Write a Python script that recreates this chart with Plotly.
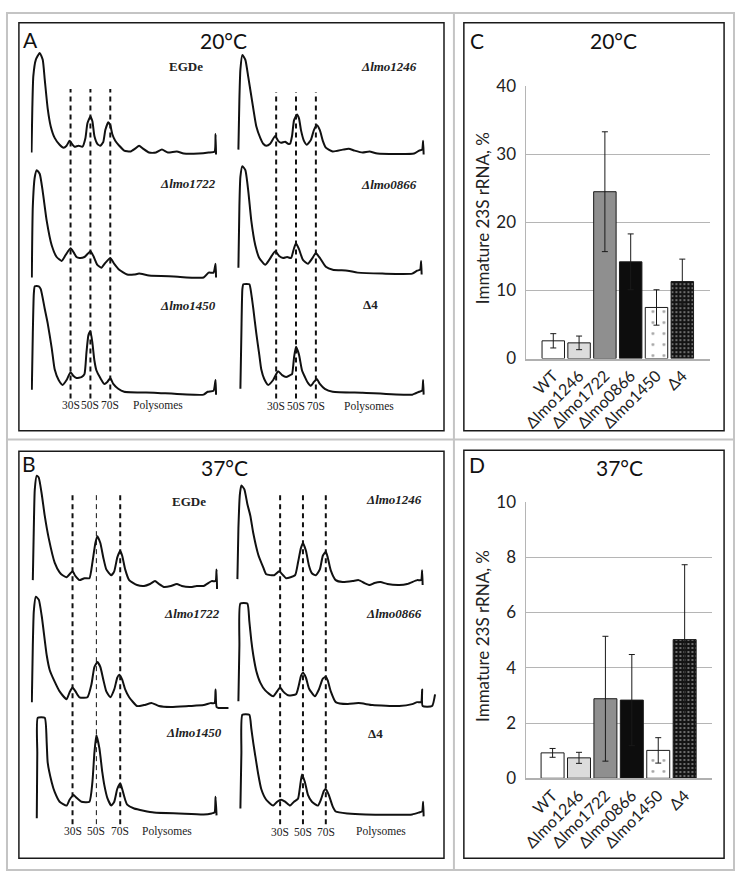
import plotly.graph_objects as go

FIG_W, FIG_H = 736, 882

# ---------------- bar chart data (panels C and D) ----------------
strains = ["WT", "Δlmo1246", "Δlmo1722", "Δlmo0866", "Δlmo1450", "Δ4"]
immature_20C = [2.6, 2.3, 24.5, 14.2, 7.5, 11.3]
immature_20C_err = [1.05, 1.0, 8.8, 4.1, 2.6, 3.3]
immature_37C = [0.92, 0.74, 2.88, 2.83, 1.01, 5.02]
immature_37C_err = [0.16, 0.2, 2.26, 1.65, 0.46, 2.71]
ticks_20C = [0, 10, 20, 30, 40]
ticks_37C = [0, 2, 4, 6, 8, 10]

# ---------------- polysome profiles (gradient position, A254 rel. units) ----------------
# 20 °C
egde20_pos = [0.7, 1.5, 2.5, 5, 9, 12, 14, 17, 20, 24, 29, 33, 36, 39, 42, 44, 48, 52, 55, 57, 60, 62, 64, 67, 70, 73, 75, 78, 80, 82, 85, 89, 94, 100, 105, 109, 113, 119, 126, 132, 138, 147, 154, 169, 179, 185, 186, 186.5]
egde20_a254 = [2, 47, 80, 97, 104, 97, 77, 47, 29, 17, 10, 7, 9, 14, 10, 8, 9, 8, 17, 32, 39, 34, 19, 11, 9, 13, 25, 33, 30, 21, 14, 9, 4, 3, 6, 9, 6, 2, 2, 5, 2, 3, 1, 1, 2, 3, 21, 0]
lmo1722_20_pos = [1, 2, 4, 6, 9, 12, 16, 21, 26, 31, 35, 40, 43, 46, 49, 54, 57, 60, 63, 67, 71, 75, 80, 84, 89, 97, 104, 109, 119, 144, 174, 179, 184, 186, 186.5]
lmo1722_20_a254 = [0, 73, 103, 110, 106, 88, 58, 33, 21, 17, 23, 30, 26, 21, 20, 21, 24, 27, 22, 13, 10, 15, 20, 14, 8, 3, 3, 4, 2, 1, 0, 5, 5, 14, 0]
lmo1450_20_pos = [1, 2, 3, 4, 8, 10, 14, 17, 21, 24, 28, 32, 36, 40, 43, 46, 51, 54, 56, 58, 60, 62, 64, 66, 70, 74, 77, 80, 83, 88, 94, 124, 174, 178, 184, 186, 186.5]
lmo1450_20_a254 = [5, 63, 103, 111, 111, 108, 88, 73, 48, 26, 15, 10, 15, 23, 19, 17, 18, 21, 43, 61, 65, 53, 35, 25, 17, 11, 13, 17, 11, 6, 3, 2, 0, 3, 4, 15, 0]
lmo1246_20_pos = [2, 3, 4, 6, 9, 12, 17, 20, 24, 27, 30, 34, 39, 42, 45, 49, 52, 54, 56, 58, 61, 63, 65, 68, 71, 75, 78, 81, 84, 87, 90, 97, 107, 113, 119, 127, 134, 142, 179, 184, 187, 188, 188.5]
lmo1246_20_a254 = [5, 57, 87, 102, 97, 79, 47, 29, 17, 11, 9, 11, 19, 14, 12, 13, 11, 11, 19, 35, 41, 37, 25, 14, 10, 15, 25, 30, 25, 14, 7, 3, 5, 6, 4, 2, 3, 1, 1, 4, 5, 14, 0]
lmo0866_20_pos = [2, 3, 4, 6, 9, 12, 15, 19, 23, 29, 33, 39, 43, 47, 51, 55, 58, 60, 63, 67, 72, 76, 80, 84, 90, 97, 112, 122, 147, 177, 182, 185, 186, 186.5]
lmo0866_20_a254 = [10, 73, 103, 114, 110, 88, 58, 33, 20, 13, 18, 27, 22, 20, 21, 20, 30, 35, 29, 18, 14, 19, 25, 20, 11, 8, 7, 5, 4, 4, 7, 8, 17, 3]
delta4_20_pos = [4, 5, 6, 7, 13, 15, 17, 20, 23, 25, 28, 32, 37, 42, 46, 50, 54, 56, 58, 60, 63, 66, 69, 72, 75, 78, 81, 84, 89, 97, 127, 177, 184, 187, 188, 188.5]
delta4_20_a254 = [6, 63, 108, 113, 113, 103, 88, 63, 41, 26, 16, 10, 15, 24, 20, 18, 20, 21, 38, 49, 41, 25, 18, 12, 9, 13, 16, 11, 6, 3, 2, 0, 3, 4, 15, 0]
# 37 °C
egde37_pos = [2, 3, 4, 6, 8, 11, 14, 18, 24, 29, 32, 36, 39, 42, 45, 49, 54, 59, 62, 65, 67, 70, 73, 76, 81, 84, 87, 90, 92, 95, 99, 107, 114, 120, 125, 129, 134, 141, 147, 152, 161, 167, 174, 182, 186, 187, 187.5]
egde37_a254 = [9, 62, 102, 116, 114, 97, 75, 52, 27, 17, 14, 12, 15, 18, 13, 9, 11, 11, 27, 47, 54, 47, 32, 20, 14, 18, 32, 39, 34, 20, 9, 4, 3, 5, 8, 5, 2, 3, 5, 3, 2, 3, 3, 8, 8, 20, 0]
lmo1722_37_pos = [1, 2, 3, 5, 8, 11, 16, 19, 24, 29, 36, 39, 42, 45, 49, 57, 61, 64, 67, 70, 73, 76, 80, 84, 87, 89, 92, 95, 99, 107, 114, 122, 129, 141, 159, 174, 181, 185, 186, 187, 189, 199]
lmo1722_37_a254 = [6, 64, 99, 114, 111, 94, 54, 39, 27, 17, 9, 16, 21, 17, 11, 11, 24, 42, 47, 42, 29, 17, 11, 19, 31, 34, 29, 19, 11, 2, 3, 5, 2, 1, 2, 3, 5, 5, 19, 1, 0, 0]
lmo1450_37_pos = [6, 6.5, 7, 14, 16, 17, 21, 24, 29, 36, 39, 43, 46, 51, 59, 62, 64, 66, 69, 72, 74, 77, 81, 84, 87, 90, 92, 95, 97, 104, 124, 149, 174, 182, 185, 186, 187]
lmo1450_37_a254 = [-1, 66, 102, 102, 76, 56, 36, 26, 16, 12, 18, 23, 20, 16, 16, 36, 66, 84, 71, 46, 33, 20, 12, 16, 29, 35, 29, 18, 13, 9, 5, 4, 3, 4, 5, 21, 2]
lmo1246_37_pos = [2, 3, 4.5, 6, 9, 12, 15, 18, 23, 28, 31, 39, 44, 48, 51, 60, 63, 66, 68, 71, 74, 77, 81, 85, 88, 91, 93, 96, 101, 108, 118, 124, 130, 135, 140, 146, 153, 165, 173, 183, 187, 188, 188.5]
lmo1246_37_a254 = [7, 59, 94, 103, 99, 84, 72, 54, 32, 19, 12, 11, 15, 11, 8, 11, 24, 39, 44, 36, 21, 13, 11, 17, 31, 35, 29, 16, 6, 4, 5, 6, 3, 1, 3, 4, 2, 1, 2, 6, 6, 16, 1]
lmo0866_37_pos = [3, 4, 5, 12, 14, 16, 18, 21, 25, 30, 38, 45, 48, 53, 61, 64, 66, 68, 71, 74, 80, 84, 88, 91, 93, 96, 101, 113, 124, 138, 165, 178, 183, 187, 188, 188.5, 198, 201]
lmo0866_37_a254 = [5, 62, 105, 105, 87, 67, 52, 36, 24, 16, 10, 19, 15, 11, 12, 22, 31, 34, 29, 18, 10, 17, 28, 30, 26, 15, 4, 2, 3, 1, 0, 2, 4, 4, 17, 0, 0, 12]
delta4_37_pos = [5, 6, 7, 14, 16, 18, 20, 23, 26, 31, 38, 42, 46, 50, 55, 59, 63, 65, 67, 70, 73, 77, 83, 86, 89, 91, 94, 98, 101, 113, 131, 178, 185, 188, 189, 189.5]
delta4_37_a254 = [8, 65, 104, 104, 90, 75, 62, 43, 28, 17, 11, 15, 17, 15, 11, 15, 18, 30, 43, 35, 22, 15, 11, 17, 26, 28, 22, 10, 5, 3, 2, 2, 4, 5, 15, 0]

# sedimentation marker positions per panel column (gradient units)
markers_A_left = [40, 60, 80]
markers_A_right = [40, 60, 80]
markers_B_left = [42, 66, 90]
markers_B_right = [45, 68, 91]
marker_names = ["30S", "50S", "70S"]


def px(x):
    return x / FIG_W


def py(y):
    return 1 - y / FIG_H


fig = go.Figure()
layout = {}
annotations = []
shapes = []

# ----- profile subplots -----
PROF_W = 210
YLO, YHI = -12, 140
profiles = [
    # pos, a254, column x0 px, baseline px, label, label centre (px)
    (egde20_pos, egde20_a254, 26, 147, "<b>EGDe</b>", (182, 57)),
    (lmo1722_20_pos, lmo1722_20_a254, 26, 273, "<b><i>Δlmo1722</i></b>", (184, 177)),
    (lmo1450_20_pos, lmo1450_20_a254, 26, 393, "<b><i>Δlmo1450</i></b>", (184, 302)),
    (lmo1246_20_pos, lmo1246_20_a254, 233, 147, "<b><i>Δlmo1246</i></b>", (387, 57)),
    (lmo0866_20_pos, lmo0866_20_a254, 233, 273, "<b><i>Δlmo0866</i></b>", (387, 178)),
    (delta4_20_pos, delta4_20_a254, 233, 393, "<b>Δ4</b>", (368, 301)),
    (egde37_pos, egde37_a254, 26, 592, "<b>EGDe</b>", (185, 502)),
    (lmo1722_37_pos, lmo1722_37_a254, 26, 714, "<b><i>Δlmo1722</i></b>", (188, 617)),
    (lmo1450_37_pos, lmo1450_37_a254, 26, 826, "<b><i>Δlmo1450</i></b>", (190, 739)),
    (lmo1246_37_pos, lmo1246_37_a254, 232, 589, "<b><i>Δlmo1246</i></b>", (392, 500)),
    (lmo0866_37_pos, lmo0866_37_a254, 232, 712, "<b><i>Δlmo0866</i></b>", (392, 617)),
    (delta4_37_pos, delta4_37_a254, 232, 825, "<b>Δ4</b>", (373, 740)),
]

for i, (pos, a254, x0, base, label, (lx, ly)) in enumerate(profiles, start=1):
    xa, ya = f"x{i}", f"y{i}"
    fig.add_trace(go.Scatter(
        x=pos, y=a254, xaxis=xa, yaxis=ya, mode="lines",
        line=dict(color="#111111", width=2, shape="spline", smoothing=0.5),
        hoverinfo="skip", showlegend=False, cliponaxis=False))
    layout[f"xaxis{i}"] = dict(domain=[px(x0), px(x0 + PROF_W)], range=[0, PROF_W],
                               visible=False, anchor=ya, fixedrange=True)
    layout[f"yaxis{i}"] = dict(domain=[py(base - YLO), py(base - YHI)], range=[YLO, YHI],
                               visible=False, anchor=xa, fixedrange=True)
    annotations.append(dict(x=px(lx), y=py(ly), xref="paper", yref="paper", text=label,
                            showarrow=False, xanchor="center", yanchor="middle",
                            font=dict(family="Liberation Serif", size=13, color="#222222")))

# dashed sedimentation markers + labels
marker_sets = [
    # axis index of column, markers, y top, y bottom, label y, polysome label x(px), widths
    (1, markers_A_left, 80, 397, 404, 154, [2, 2, 2]),
    (4, markers_A_right, 83, 397, 405, 366, [2, 2, 2]),
    (7, markers_B_left, 492, 833, 840, 163, [2, 1, 2]),
    (10, markers_B_right, 493, 833, 841, 379, [2, 2, 2]),
]
for ax_i, marks, ytop, ybot, ylab, polx, widths in marker_sets:
    for m, name, w in zip(marks, marker_names, widths):
        shapes.append(dict(type="line", xref=f"x{ax_i}", yref="paper", x0=m, x1=m,
                           y0=py(ybot), y1=py(ytop),
                           line=dict(color="#111111", width=w, dash="5px,4px")))
        annotations.append(dict(x=m, y=py(ylab), xref=f"x{ax_i}", yref="paper", text=name,
                                showarrow=False, xanchor="center", yanchor="middle",
                                font=dict(family="Liberation Serif", size=11.5, color="#222222")))
    annotations.append(dict(x=px(polx), y=py(ylab), xref="paper", yref="paper", text="Polysomes",
                            showarrow=False, xanchor="center", yanchor="middle",
                            font=dict(family="Liberation Serif", size=11.5, color="#222222")))

# ----- bar charts -----
bar_fill = ["#ffffff", "#dcdcdc", "#8f8f8f", "#0d0d0d", "#ffffff", "#141414"]
pat_shape = ["", "", "", "", ".", "."]
pat_fg = ["#000000", "#000000", "#000000", "#000000", "#111111", "#a8a8a8"]
pat_bg = bar_fill
pat_size = [8, 8, 8, 8, 11, 4]
pat_solid = [0.3, 0.3, 0.3, 0.3, 0.05, 0.2]

bar_panels = [
    (13, immature_20C, immature_20C_err, ticks_20C, [525, 710], [77, 356], [-1.04, 6.08]),
    (14, immature_37C, immature_37C_err, ticks_37C, [525, 711.7], [503, 786], [-0.99, 6.03]),
]
for ax_i, vals, errs, tks, (xl, xr), (yt, yb), xr_rng in bar_panels:
    xa, ya = f"x{ax_i}", f"y{ax_i}"
    fig.add_trace(go.Bar(
        x=strains, y=vals, xaxis=xa, yaxis=ya, width=0.87,
        marker=dict(color=bar_fill, line=dict(color="#1a1a1a", width=1),
                    pattern=dict(shape=pat_shape, fgcolor=pat_fg, bgcolor=pat_bg,
                                 size=pat_size, solidity=pat_solid)),
        error_y=dict(type="data", array=errs, color="#1a1a1a", thickness=1, width=3),
        hoverinfo="skip", showlegend=False))
    layout[f"xaxis{ax_i}"] = dict(domain=[px(xl), px(xr)], range=xr_rng, type="category",
                                  anchor=ya, showgrid=False, showline=True,
                                  linecolor="#b0b0b0", linewidth=1.5, ticks="",
                                  tickangle=-45, fixedrange=True,
                                  tickfont=dict(family="Lato", size=16, color="#222222"))
    layout[f"yaxis{ax_i}"] = dict(domain=[py(yb), py(yt)], range=[0, tks[-1]], tickvals=tks,
                                  anchor=xa, showgrid=True, gridcolor="#b5b5b5", gridwidth=1,
                                  zeroline=False, showline=True, linecolor="#b5b5b5",
                                  linewidth=1, ticks="", ticklabelstandoff=6, fixedrange=True,
                                  tickfont=dict(family="Lato", size=17, color="#222222"))
    annotations.append(dict(x=px(481), y=py((yt + yb) / 2 - 4), xref="paper", yref="paper",
                            text="Immature 23S rRNA, %", textangle=-90, showarrow=False,
                            xanchor="center", yanchor="middle",
                            font=dict(family="Lato", size=17, color="#222222")))

# ----- panel titles -----
titles = [("A", 26, 29), ("20°C", 220, 30), ("B", 24, 464), ("37°C", 221, 468),
          ("C", 475, 30), ("20°C", 613, 30), ("D", 475, 465), ("37°C", 619, 468)]
for txt, tx, ty in titles:
    annotations.append(dict(x=px(tx), y=py(ty), xref="paper", yref="paper", text=txt,
                            showarrow=False, xanchor="center", yanchor="middle",
                            font=dict(family="Lato", size=21, color="#111111")))

# ----- panel frames and outer grid -----
grid_col = "#c4c4c4"
shapes.append(dict(type="rect", xref="paper", yref="paper", x0=px(2), x1=px(734),
                   y0=py(880), y1=py(2), line=dict(color=grid_col, width=2)))
shapes.append(dict(type="line", xref="paper", yref="paper", x0=px(452), x1=px(452),
                   y0=py(880), y1=py(2), line=dict(color=grid_col, width=2)))
shapes.append(dict(type="line", xref="paper", yref="paper", x0=px(2), x1=px(734),
                   y0=py(439), y1=py(439), line=dict(color=grid_col, width=2)))
for (x0, y0, x1, y1) in [(14, 12, 442, 430), (462, 12, 724, 430),
                         (14, 451, 442, 868), (462, 450, 724, 868)]:
    shapes.append(dict(type="rect", xref="paper", yref="paper", x0=px(x0), x1=px(x1),
                       y0=py(y1), y1=py(y0), line=dict(color="#1a1a1a", width=1.5)))

fig.update_layout(width=FIG_W, height=FIG_H, autosize=False,
                  margin=dict(l=0, r=0, t=0, b=0),
                  paper_bgcolor="white", plot_bgcolor="rgba(0,0,0,0)",
                  annotations=annotations, shapes=shapes, bargap=0.1,
                  **layout)

fig.write_html("out.html", config={"displayModeBar": False},
               post_script="document.body.style.margin='0px';document.body.style.padding='0px';")
